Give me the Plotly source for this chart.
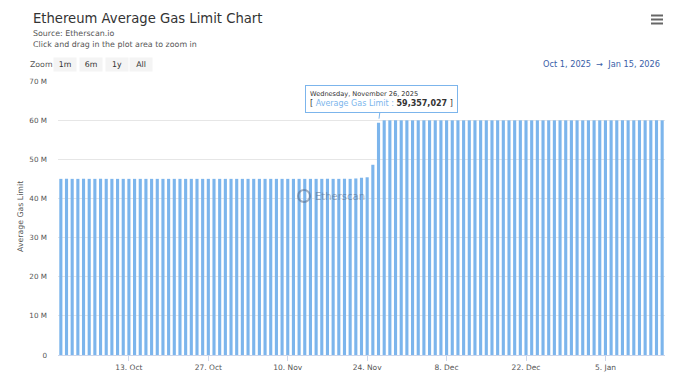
import pandas as pd
import plotly.graph_objects as go

# ---------------- data ----------------
dates = pd.date_range("2025-10-01", "2026-01-15", freq="D")

# Average gas limit, in millions
oct_vals = [45.0, 45.0, 45.0, 45.0, 45.0, 45.0, 45.0, 45.0, 45.0, 45.0,
            45.0, 45.0, 45.0, 45.0, 45.0, 45.0, 45.0, 45.0, 45.0, 45.0,
            45.0, 45.0, 45.0, 45.0, 45.0, 45.0, 45.0, 45.0, 45.0, 45.0,
            45.0]
nov_vals = [45.0, 45.0, 45.0, 45.0, 45.0, 45.0, 45.0, 45.0, 45.0, 45.0,
            45.0, 45.0, 45.0, 45.0, 45.0, 45.0, 45.0, 45.0, 45.0, 45.0,
            45.0, 45.1, 45.3, 45.4, 48.6, 59.357027, 59.95, 59.95, 59.95, 59.95]
dec_vals = [59.95, 59.95, 59.95, 59.95, 59.95, 59.95, 59.95, 59.95, 59.95, 59.95,
            59.95, 59.95, 59.95, 59.95, 59.95, 59.95, 59.95, 59.95, 59.95, 59.95,
            59.95, 59.95, 59.95, 59.95, 59.95, 59.95, 59.95, 59.95, 59.95, 59.95,
            59.95]
jan_vals = [59.95, 59.95, 59.95, 59.95, 59.95, 59.95, 59.95, 59.95, 59.95, 59.95,
            59.95, 59.95, 59.95, 59.95, 59.95]
gas_limit_m = oct_vals + nov_vals + dec_vals + jan_vals
gas_limit = [round(v * 1_000_000) for v in gas_limit_m]

y_tickvals = [0, 10e6, 20e6, 30e6, 40e6, 50e6, 60e6, 70e6]
y_ticktext = ["0", "10 M", "20 M", "30 M", "40 M", "50 M", "60 M", "70 M"]
x_tickvals = ["2025-10-13", "2025-10-27", "2025-11-10", "2025-11-24",
              "2025-12-08", "2025-12-22", "2026-01-05"]
x_ticktext = ["13. Oct", "27. Oct", "10. Nov", "24. Nov", "8. Dec", "22. Dec", "5. Jan"]
zoom_buttons = ["1m", "6m", "1y", "All"]
highlight_date = "2025-11-26"

# ---------------- layout helpers ----------------
L, R, T, B = 58, 15, 81, 30
W, H = 680, 385
PW, PH = W - L - R, H - T - B


def px(x):
    return (x - L) / PW


def py(y):
    return (H - B - y) / PH


FONT = "DejaVu Sans"
BAR = "#7cb5ec"

fig = go.Figure()
fig.add_trace(go.Bar(
    x=dates, y=gas_limit, marker=dict(color=BAR, line=dict(width=0)),
    width=0.55 * 86400000, name="Average Gas Limit",
))

annotations = []
# title & subtitle
annotations.append(dict(text="Ethereum Average Gas Limit Chart", x=px(31), y=py(18),
                        xref="paper", yref="paper", xanchor="left", yanchor="middle",
                        showarrow=False, font=dict(family=FONT, size=13.2, color="#333333")))
for line, yy in [("Source: Etherscan.io", 33), ("Click and drag in the plot area to zoom in", 44)]:
    annotations.append(dict(text=line, x=px(31), y=py(yy), xref="paper", yref="paper",
                            xanchor="left", yanchor="middle", align="left", showarrow=False,
                            font=dict(family=FONT, size=7.9, color="#555555")))
# zoom label + buttons
annotations.append(dict(text="Zoom", x=px(28), y=py(64.5), xref="paper", yref="paper",
                        xanchor="left", yanchor="middle", showarrow=False,
                        font=dict(family=FONT, size=7.8, color="#555555")))
for lab, cx in zip(zoom_buttons, [65, 91, 116.5, 141]):
    annotations.append(dict(text=lab, x=px(cx), y=py(64.5), xref="paper", yref="paper",
                            xanchor="center", yanchor="middle", showarrow=False,
                            bgcolor="#f4f4f4", width=18, height=9, borderpad=2,
                            font=dict(family=FONT, size=7.8, color="#333333")))
# date range
annotations.append(dict(text="Oct 1, 2025  →  Jan 15, 2026", x=px(662), y=py(63.5),
                        xref="paper", yref="paper", xanchor="right", yanchor="middle",
                        showarrow=False, font=dict(family=FONT, size=8.2, color="#3a5ea8")))
# y-axis title
annotations.append(dict(text="Average Gas Limit", x=px(20), y=py(217), xref="paper",
                        yref="paper", textangle=-90, xanchor="center", yanchor="middle",
                        showarrow=False, font=dict(family=FONT, size=7.8, color="#555555")))
# watermark
annotations.append(dict(text="Etherscan", x=px(340), y=py(196), xref="paper", yref="paper",
                        xanchor="center", yanchor="middle", showarrow=False,
                        font=dict(family=FONT, size=10, color="rgba(80,100,130,0.5)")))
# tooltip
hi = list(dates.strftime("%Y-%m-%d")).index(highlight_date)
hd = dates[hi]
tip = (f"<span style='font-size:6.6px'>{hd.strftime('%A, %B')} {hd.day}, {hd.year}</span><br>"
       f"[ <span style='color:{BAR}'>Average Gas Limit :</span> <b>{gas_limit[hi]:,}</b> ]")
annotations.append(dict(text=tip, x=hd, y=gas_limit[hi], xref="x", yref="y",
                        showarrow=True, arrowhead=0, arrowwidth=1, arrowcolor=BAR,
                        ax=3, ay=-24, standoff=4, align="left",
                        bgcolor="rgba(255,255,255,0.95)", bordercolor=BAR, borderwidth=1,
                        borderpad=4, font=dict(family=FONT, size=8, color="#333333")))

shapes = []
# hamburger menu
for yy in [15.5, 19.5, 23.5]:
    shapes.append(dict(type="line", xref="paper", yref="paper", x0=px(651), x1=px(663),
                       y0=py(yy), y1=py(yy), line=dict(color="#666666", width=2)))
# watermark icon
shapes.append(dict(type="circle", xref="paper", yref="paper", x0=px(298), x1=px(310),
                   y0=py(202), y1=py(190), line=dict(color="rgba(80,100,130,0.5)", width=2)))

fig.update_layout(
    width=W, height=H, margin=dict(l=L, r=R, t=T, b=B),
    paper_bgcolor="white", plot_bgcolor="white",
    showlegend=False, bargap=0.45,
    font=dict(family=FONT, size=7.5, color="#555555"),
    annotations=annotations, shapes=shapes,
    xaxis=dict(type="date", range=["2025-09-30 12:00", "2026-01-15 12:00"],
               tickvals=x_tickvals, ticktext=x_ticktext, showgrid=False,
               showline=True, linecolor="#ccd6eb", ticks="outside", ticklen=5,
               tickcolor="#ccd6eb", tickfont=dict(family=FONT, size=7.5, color="#555555"),
               zeroline=False, fixedrange=False),
    yaxis=dict(range=[0, 70e6], tickvals=y_tickvals, ticktext=y_ticktext,
               showgrid=True, gridcolor="#e6e6e6", gridwidth=1, zeroline=False,
               ticks="", ticklabelstandoff=10,
               tickfont=dict(family=FONT, size=7.2, color="#555555")),
)

fig.write_html("out.html")
